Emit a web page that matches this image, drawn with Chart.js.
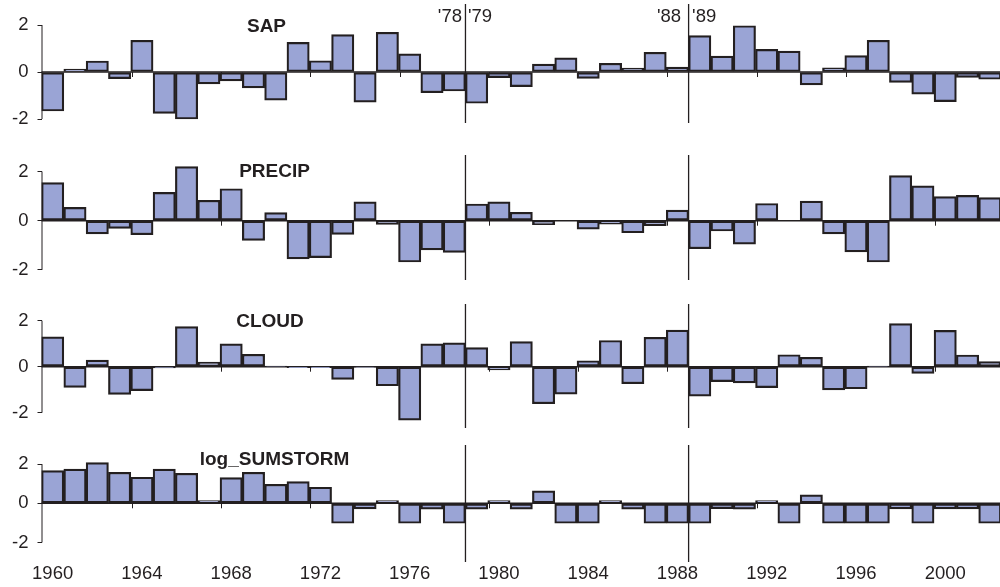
<!DOCTYPE html>
<html>
<head>
<meta charset="utf-8">
<script src="https://cdn.jsdelivr.net/npm/chart.js@4/dist/chart.umd.min.js"></script>
<style>
  html, body { margin: 0; padding: 0; background: #fff; overflow: hidden; width: 1000px; height: 587px; }
  canvas { position: absolute; left: 0; }
</style>
</head>
<body>
<canvas id="panelSap"></canvas>
<canvas id="panelPrecip"></canvas>
<canvas id="panelCloud"></canvas>
<canvas id="panelStorm"></canvas>
<script>
// Standardised anomalies, one bar per year
const years = [1960, 1961, 1962, 1963, 1964, 1965, 1966, 1967, 1968, 1969,
               1970, 1971, 1972, 1973, 1974, 1975, 1976, 1977, 1978, 1979,
               1980, 1981, 1982, 1983, 1984, 1985, 1986, 1987, 1988, 1989,
               1990, 1991, 1992, 1993, 1994, 1995, 1996, 1997, 1998, 1999,
               2000, 2001, 2002];

const sap = [-1.66, 0.12, 0.47, -0.28, 1.35, -1.76, -2.00, -0.51, -0.38, -0.68,
             -1.20, 1.26, 0.48, 1.59, -1.28, 1.69, 0.77, -0.88, -0.81, -1.33,
             -0.24, -0.62, 0.34, 0.60, -0.27, 0.37, 0.17, 0.84, 0.21, 1.55,
             0.68, 1.97, 0.96, 0.89, -0.55, 0.18, 0.70, 1.35, -0.44, -0.94,
             -1.26, -0.23, -0.31];

const precip = [1.55, 0.54, -0.54, -0.31, -0.57, 1.15, 2.20, 0.83, 1.30, -0.80,
                0.33, -1.55, -1.50, -0.56, 0.77, -0.15, -1.68, -1.19, -1.29, 0.68,
                0.77, 0.34, -0.16, 0.00, -0.34, -0.14, -0.49, -0.20, 0.43, -1.14,
                -0.42, -0.95, 0.70, 0.00, 0.80, -0.54, -1.27, -1.68, 1.83, 1.42,
                0.98, 1.03, 0.94];

const cloud = [1.30, -0.90, 0.29, -1.20, -1.04, -0.05, 1.74, 0.20, 0.99, 0.54,
               0.02, -0.04, -0.04, -0.55, -0.02, -0.83, -2.32, 0.99, 1.04, 0.83,
               -0.14, 1.09, -1.61, -1.19, 0.26, 1.14, -0.74, 1.28, 1.59, -1.28,
               -0.65, -0.70, -0.91, 0.52, 0.41, -1.01, -0.96, 0.02, 1.87, -0.29,
               1.58, 0.51, 0.22];

const logSumstorm = [1.67, 1.74, 2.08, 1.58, 1.33, 1.74, 1.53, 0.14, 1.31, 1.58,
                     0.97, 1.11, 0.82, -1.02, -0.29, 0.14, -1.02, -0.30, -1.02, -0.30,
                     0.14, -0.30, 0.63, -1.02, -1.02, 0.14, -0.30, -1.02, -1.02, -1.02,
                     -0.27, -0.30, 0.14, -1.02, 0.43, -1.02, -1.02, -1.02, -0.29, -1.02,
                     -0.29, -0.29, -1.02];

// Axis ticks
const yTickValues = [-2, 0, 2];
const xTickYears = [1960, 1964, 1968, 1972, 1976, 1980, 1984, 1988, 1992, 1996, 2000];

// Regime breaks: the line sits between the two years of each pair
const breakPairs = [[1978, 1979], [1988, 1989]];
const breakLabels = [["'78", "'79"], ["'88", "'89"]];

const INK = '#231f20';
const BAR_FILL = '#9aa4d5';
const FONT = "'Liberation Sans', Arial, Helvetica, sans-serif";

Chart.defaults.font.family = FONT;
Chart.defaults.font.size = 18.5;
Chart.defaults.color = INK;

// Layout of the four stacked panels
const panels = [
  { id: 'panelSap',    title: 'SAP',          values: sap,         top: 0,   height: 135, padTop: 4,  padBottom: 12, min: -2.170, max: 2.894, titleX: 266.5, titleY: 31.7,  breakText: true,  yearAxis: false },
  { id: 'panelPrecip', title: 'PRECIP',       values: precip,      top: 135, height: 155, padTop: 20, padBottom: 10, min: -2.411, max: 2.671, titleX: 274.5, titleY: 177.3, breakText: false, yearAxis: false },
  { id: 'panelCloud',  title: 'CLOUD',        values: cloud,       top: 290, height: 145, padTop: 14, padBottom: 7,  min: -2.665, max: 2.726, titleX: 270,   titleY: 326.7, breakText: false, yearAxis: false },
  { id: 'panelStorm',  title: 'log_SUMSTORM', values: logSumstorm, top: 435, height: 152, padTop: 10, padBottom: 0,  min: -2.995, max: 2.974, titleX: 274.5, titleY: 465,   breakText: false, yearAxis: true }
];

const CANVAS_W = 1001;

// Zero line, y spine, year ticks on the zero line, break lines and texts
const panelDecor = {
  id: 'panelDecor',
  beforeDatasetsDraw(chart, args, opts) {
    const { ctx, chartArea: a, scales: { x, y } } = chart;
    const y0 = y.getPixelForValue(0);
    ctx.save();
    ctx.strokeStyle = INK;
    // zero line
    ctx.lineWidth = 1.4;
    ctx.beginPath();
    ctx.moveTo(a.left, y0);
    ctx.lineTo(a.right, y0);
    ctx.stroke();
    // y spine between the outer ticks
    ctx.lineWidth = 1;
    ctx.beginPath();
    ctx.moveTo(a.left + 0.5, y.getPixelForValue(yTickValues[yTickValues.length - 1]));
    ctx.lineTo(a.left + 0.5, y.getPixelForValue(yTickValues[0]));
    ctx.stroke();
    // small year ticks below the zero line, at the left edge of each labelled year
    const half = (x.getPixelForValue(1) - x.getPixelForValue(0)) / 2;
    xTickYears.forEach(yr => {
      const i = years.indexOf(yr);
      if (i <= 0) return;
      const px = Math.round(x.getPixelForValue(i) - half) + 1.5;
      ctx.beginPath();
      ctx.moveTo(px, y0);
      ctx.lineTo(px, y0 + 5);
      ctx.stroke();
    });
    ctx.restore();
  },
  afterDatasetsDraw(chart, args, opts) {
    const { ctx, chartArea: a, scales: { x } } = chart;
    ctx.save();
    ctx.strokeStyle = INK;
    ctx.lineWidth = 1.3;
    breakPairs.forEach((pair, k) => {
      const i0 = years.indexOf(pair[0]);
      const i1 = years.indexOf(pair[1]);
      const px = (x.getPixelForValue(i0) + x.getPixelForValue(i1)) / 2;
      ctx.beginPath();
      ctx.moveTo(px, a.top);
      ctx.lineTo(px, a.bottom);
      ctx.stroke();
      if (opts.breakText) {
        ctx.fillStyle = INK;
        ctx.font = '18.5px ' + FONT;
        ctx.textBaseline = 'alphabetic';
        ctx.textAlign = 'right';
        ctx.fillText(breakLabels[k][0], px - (k === 0 ? 3.5 : 7.5), 21.7);
        ctx.textAlign = 'left';
        ctx.fillText(breakLabels[k][1], px + (k === 0 ? 2.5 : 3.5), 21.7);
      }
    });
    // panel title
    ctx.fillStyle = INK;
    ctx.font = 'bold 19px ' + FONT;
    ctx.textAlign = 'center';
    ctx.textBaseline = 'alphabetic';
    ctx.fillText(opts.title, opts.titleX, opts.titleY - opts.top);
    ctx.restore();
  }
};

panels.forEach(p => {
  const cv = document.getElementById(p.id);
  cv.width = CANVAS_W;
  cv.height = p.height;
  cv.style.top = p.top + 'px';
  cv.style.width = CANVAS_W + 'px';
  cv.style.height = p.height + 'px';

  new Chart(cv, {
    type: 'bar',
    data: {
      labels: years.map(String),
      datasets: [{
        data: p.values,
        backgroundColor: BAR_FILL,
        borderColor: INK,
        borderWidth: 2.2,
        borderSkipped: false,
        categoryPercentage: 1.0,
        barPercentage: 1.0
      }]
    },
    options: {
      responsive: false,
      animation: false,
      devicePixelRatio: 1,
      layout: { padding: { top: p.padTop, bottom: p.padBottom, left: 0, right: 0 } },
      plugins: {
        legend: { display: false },
        tooltip: { enabled: false },
        panelDecor: { title: p.title, titleX: p.titleX, titleY: p.titleY, top: p.top, breakText: p.breakText }
      },
      scales: {
        x: {
          display: p.yearAxis,
          offset: true,
          grid: { display: false, drawTicks: false },
          border: { display: false },
          ticks: {
            autoSkip: false,
            maxRotation: 0,
            minRotation: 0,
            padding: 1,
            color: INK,
            font: { size: 18.5 },
            callback: (v, i) => (xTickYears.includes(years[i]) ? String(years[i]) : '')
          },
          afterFit: s => {
            s.height = p.yearAxis ? 25 : 0;
            s.paddingLeft = 0;
            s.paddingRight = 0;
          }
        },
        y: {
          min: p.min,
          max: p.max,
          grid: { display: true, drawOnChartArea: false, drawTicks: true, tickLength: 4, color: INK, lineWidth: 1 },
          border: { display: false },
          ticks: { padding: 9, color: INK, font: { size: 18.5 } },
          afterBuildTicks: s => { s.ticks = yTickValues.map(v => ({ value: v })); },
          afterFit: s => { s.width = 41.5; s.paddingTop = 0; s.paddingBottom = 0; }
        }
      }
    },
    plugins: [panelDecor]
  });
});
</script>
</body>
</html>
